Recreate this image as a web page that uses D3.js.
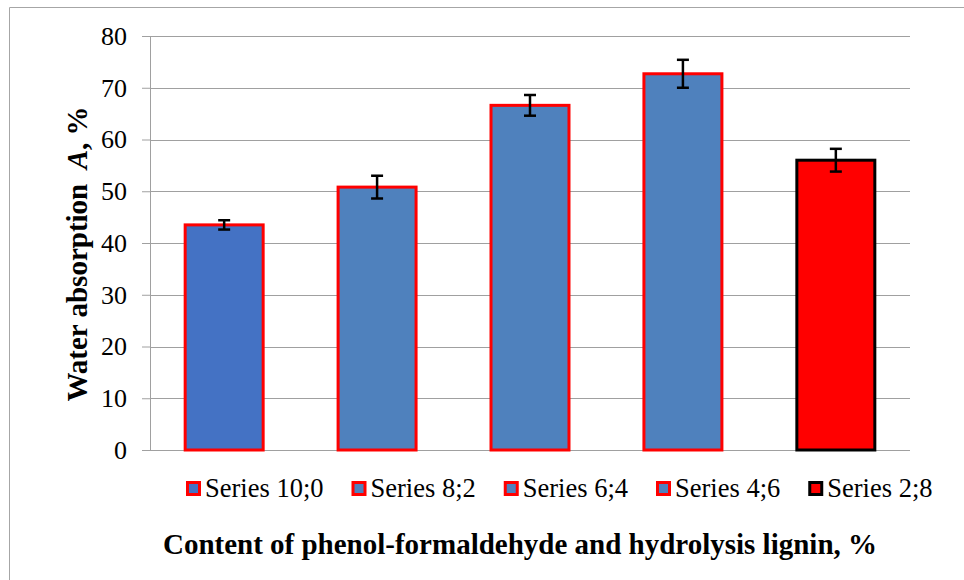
<!DOCTYPE html>
<html>
<head>
<meta charset="utf-8">
<script src="https://cdn.jsdelivr.net/npm/d3@7"></script>
<style>
  html, body { margin: 0; padding: 0; background: #fff; }
  svg { display: block; }
  svg text { font-family: "Liberation Serif", "Times New Roman", serif; }
</style>
</head>
<body>
<svg id="chart" width="964" height="580"></svg>
<script>
// Water absorption by resin ratio (phenol-formaldehyde ; hydrolysis lignin)
const categories = ["Series 10;0", "Series 8;2", "Series 6;4", "Series 4;6", "Series 2;8"];
const values = [43.5, 50.8, 66.6, 72.7, 56.0];
const errors = [0.9, 2.2, 2.0, 2.7, 2.2];
const fills = ["#4472C4", "#4F81BD", "#4F81BD", "#4F81BD", "#FF0000"];
const strokes = ["#FF0000", "#FF0000", "#FF0000", "#FF0000", "#000000"];
const yTicks = [0, 10, 20, 30, 40, 50, 60, 70, 80];

const SERIF = "'Liberation Serif', 'Times New Roman', serif";
const svg = d3.select("#chart");
const margin = { left: 150, right: 54, top: 36, bottom: 130 };
const W = 964, H = 580;
const plotW = W - margin.left - margin.right;
const plotH = H - margin.top - margin.bottom;

// outer frame (top and left edges visible)
svg.append("path")
  .attr("d", `M9.5,${H} V7.5 H${W}`)
  .attr("fill", "none").attr("stroke", "#A6A6A6").attr("stroke-width", 1);

const g = svg.append("g").attr("transform", `translate(${margin.left},${margin.top})`);

const x = d3.scaleBand().domain(categories).range([0, plotW]).paddingInner(0.49).paddingOuter(0.23);
const y = d3.scaleLinear().domain([0, 80]).range([plotH, 0]);

// horizontal gridlines
g.append("g").selectAll("line").data(yTicks.filter(d => d > 0)).join("line")
  .attr("x1", 0).attr("x2", plotW)
  .attr("y1", d => Math.round(y(d)) + 0.5).attr("y2", d => Math.round(y(d)) + 0.5)
  .attr("stroke", "#A0A0A0").attr("stroke-width", 1);

// y axis
const yAxis = g.append("g")
  .call(d3.axisLeft(y).tickValues(yTicks).tickSize(8).tickPadding(15).tickFormat(d3.format("d")));
yAxis.select(".domain").attr("stroke", "#A0A0A0");
yAxis.selectAll(".tick line").attr("stroke", "#A0A0A0");
yAxis.selectAll(".tick text")
  .attr("font-family", SERIF)
  .attr("font-size", 26).attr("fill", "#000");

// baseline
g.append("line").attr("x1", 0).attr("x2", plotW)
  .attr("y1", Math.round(y(0)) + 0.5).attr("y2", Math.round(y(0)) + 0.5)
  .attr("stroke", "#A0A0A0").attr("stroke-width", 1);

// bars
g.append("g").selectAll("rect").data(categories).join("rect")
  .attr("x", d => x(d))
  .attr("y", (d, i) => y(values[i]))
  .attr("width", x.bandwidth())
  .attr("height", (d, i) => y(0) - y(values[i]))
  .attr("fill", (d, i) => fills[i])
  .attr("stroke", (d, i) => strokes[i])
  .attr("stroke-width", 3);

// error bars
const eb = g.append("g").selectAll("g").data(categories).join("g")
  .attr("stroke", "#000").attr("stroke-width", 2.5);
eb.append("line")
  .attr("x1", d => x(d) + x.bandwidth() / 2).attr("x2", d => x(d) + x.bandwidth() / 2)
  .attr("y1", (d, i) => y(values[i] + errors[i])).attr("y2", (d, i) => y(values[i] - errors[i]));
[1, -1].forEach(s => {
  eb.append("line")
    .attr("x1", d => x(d) + x.bandwidth() / 2 - 6).attr("x2", d => x(d) + x.bandwidth() / 2 + 6)
    .attr("y1", (d, i) => y(values[i] + s * errors[i])).attr("y2", (d, i) => y(values[i] + s * errors[i]));
});

// y axis title
const yt = svg.append("text")
  .attr("transform", `translate(87,254) rotate(-90)`)
  .attr("text-anchor", "middle")
  .attr("font-family", SERIF)
  .attr("font-size", 29).attr("font-weight", "bold").attr("fill", "#000")
  .style("white-space", "pre");
yt.append("tspan").text("Water absorption  ");
yt.append("tspan").attr("font-style", "italic").text("A");
yt.append("tspan").text(", %");

// x axis title
svg.append("text")
  .attr("x", 520).attr("y", 554)
  .attr("text-anchor", "middle")
  .attr("font-family", SERIF)
  .attr("font-size", 29).attr("font-weight", "bold").attr("fill", "#000")
  .text("Content of phenol-formaldehyde and hydrolysis lignin, %");

// legend
const legend = svg.append("g").attr("transform", "translate(0,489)");
const items = legend.selectAll("g").data(categories).join("g");
items.append("rect")
  .attr("x", 1.5).attr("y", -6.5).attr("width", 12).attr("height", 12)
  .attr("fill", (d, i) => fills[i]).attr("stroke", (d, i) => strokes[i]).attr("stroke-width", 3);
items.append("text")
  .attr("x", 19).attr("y", 8)
  .attr("font-family", SERIF)
  .attr("font-size", 26.5).attr("fill", "#000")
  .text(d => d);
const gap = 28;
const widths = [];
items.each(function () { widths.push(19 + this.querySelector("text").getComputedTextLength()); });
let lx = 186;
items.attr("transform", (d, i) => {
  const t = `translate(${lx},0)`;
  lx += widths[i] + gap;
  return t;
});
</script>
</body>
</html>
